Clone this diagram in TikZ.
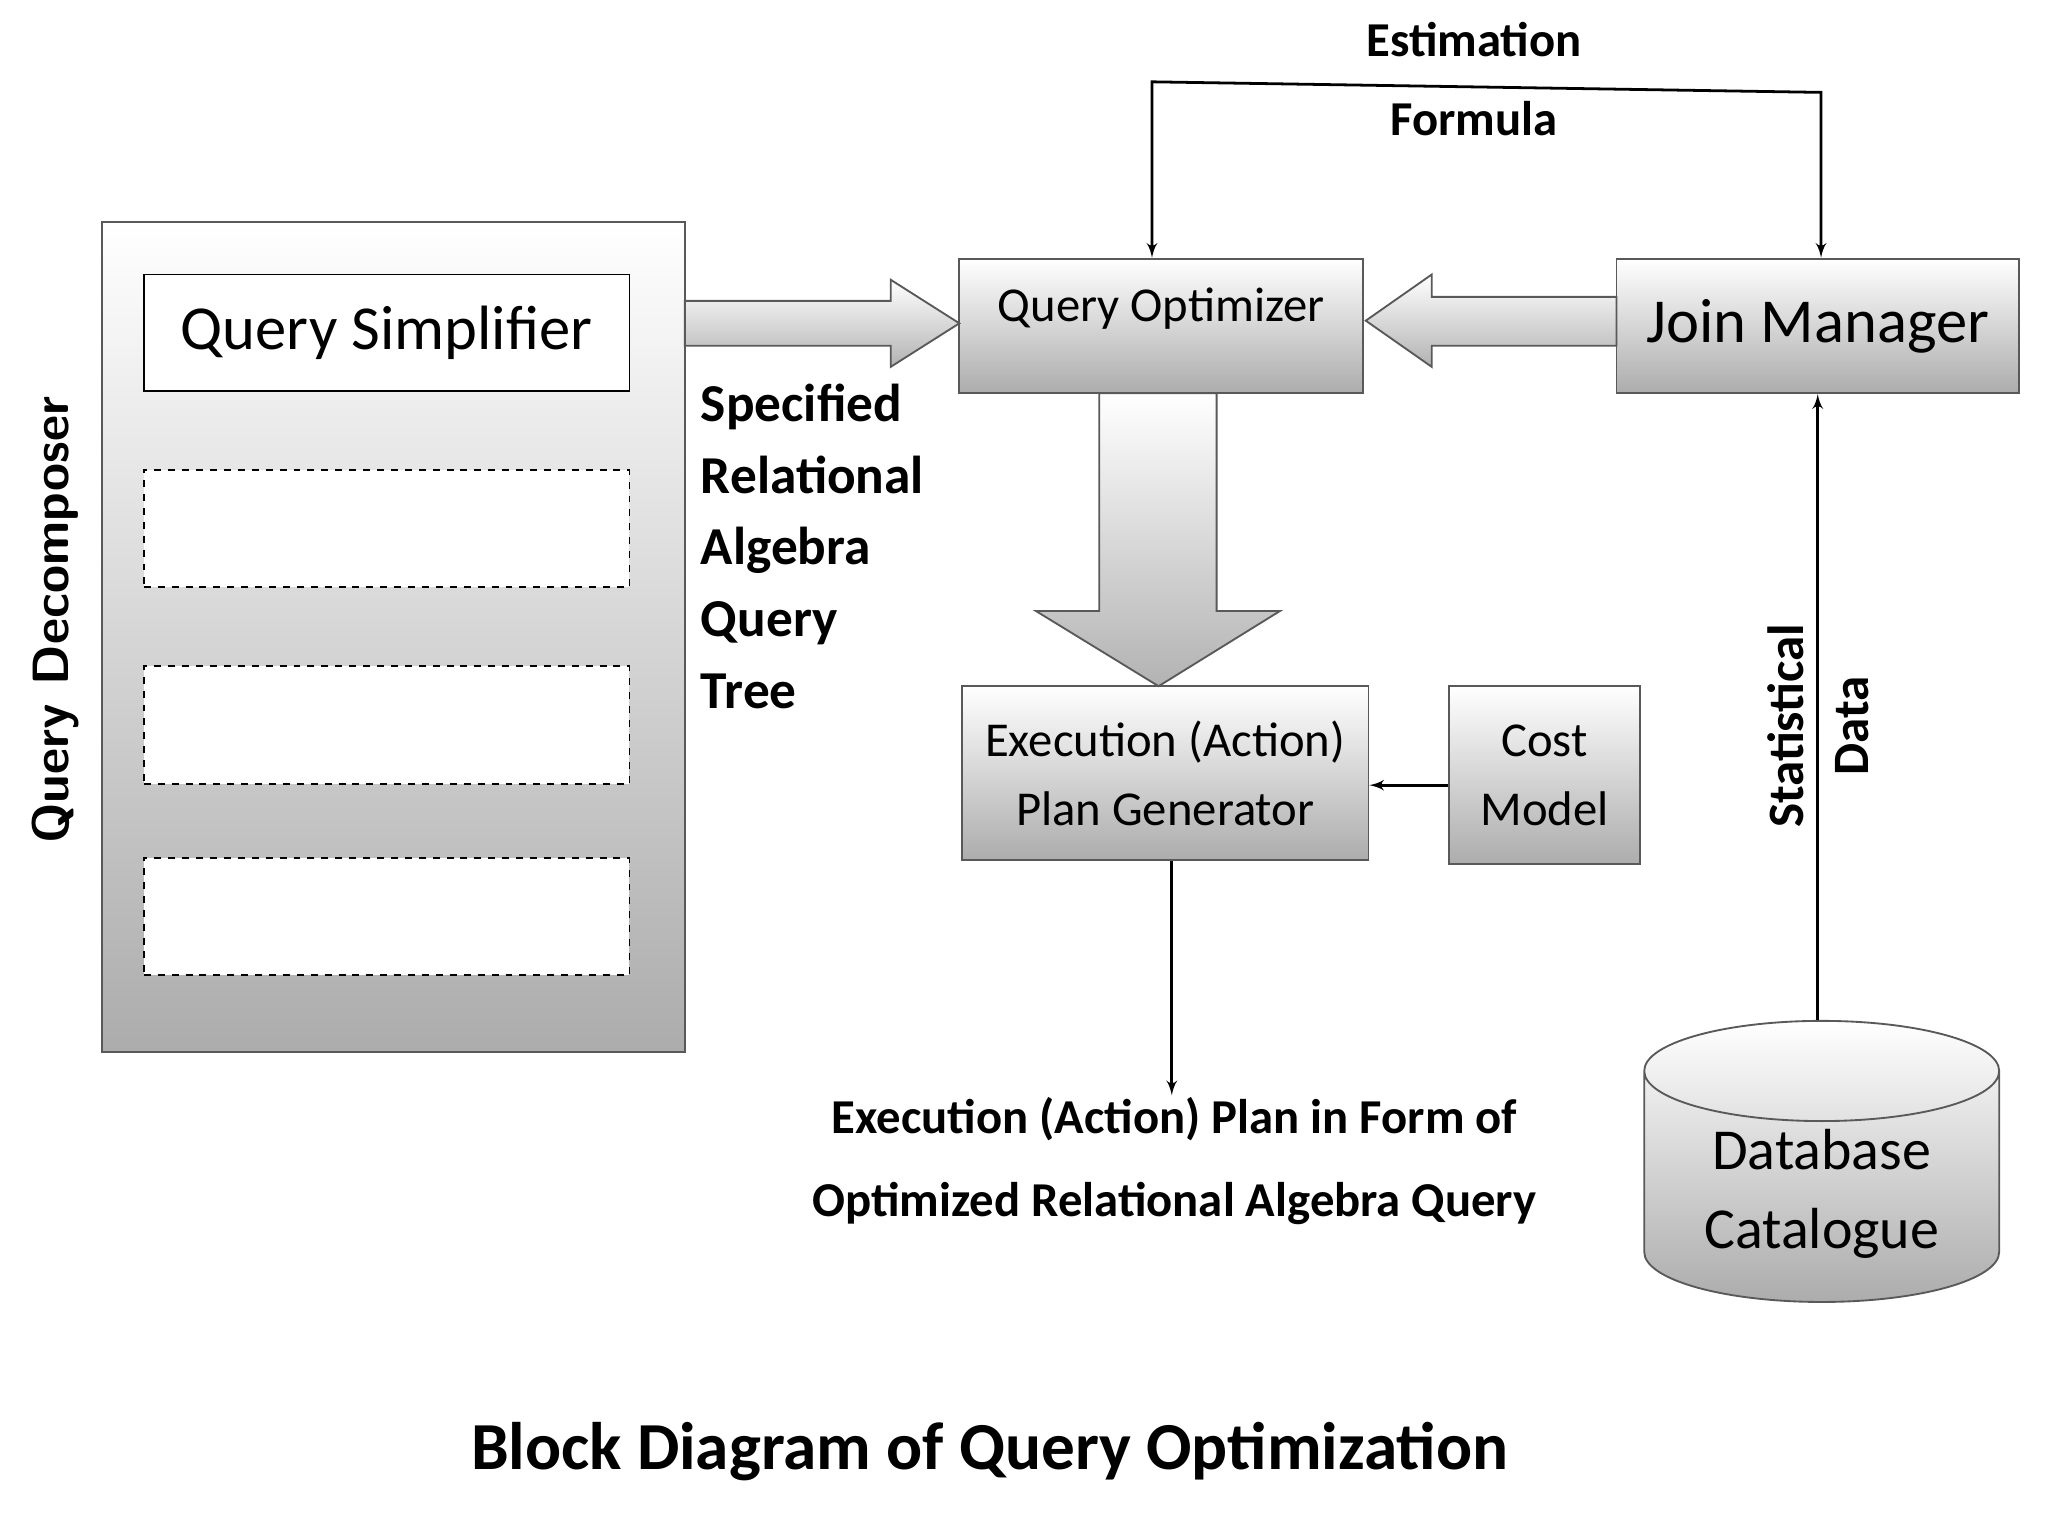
\documentclass[tikz,border=0pt]{standalone}
\usepackage{fontspec}
\setmainfont{Carlito}
\usetikzlibrary{shapes.geometric,arrows}
\begin{document}
\begin{tikzpicture}[>=latex',x=0.02cm,y=-0.02cm,
  box/.style={draw=gray!70!black,thick,top color=white,bottom color=gray!65,inner sep=0pt},
  slot/.style={draw,thick,dashed,fill=white},
  lbl/.style={font=\bfseries\fontsize{22}{28}\selectfont}]
\useasboundingbox (0,0) rectangle (1552,1164);
%%
\node (decomp) [box,minimum width=442*0.02cm,minimum height=629*0.02cm] at (298,482.5) {};
\node (decomplbl) at (42,470) [rotate=90,font=\sffamily\bfseries\fontsize{22}{26}\selectfont] {Query Decomposer};
\node (simpl) at (293,252) [draw,thick,fill=white,minimum width=368*0.02cm,minimum height=88*0.02cm,font=\fontsize{27}{32}\selectfont] {Query Simplifier};
\node (slotA) at (293,400.5) [slot,minimum width=368*0.02cm,minimum height=89*0.02cm] {};
\node (slotB) at (293,549.5) [slot,minimum width=368*0.02cm,minimum height=89*0.02cm] {};
\node (slotC) at (293,694.5) [slot,minimum width=368*0.02cm,minimum height=89*0.02cm] {};
\node (optim) at (880,247) [box,minimum width=306*0.02cm,minimum height=102*0.02cm,font=\fontsize{21}{26}\selectfont,anchor=center] {\raisebox{18pt}{Query Optimizer}};
\node (join) at (1377.5,247) [box,minimum width=305*0.02cm,minimum height=102*0.02cm,font=\fontsize{27}{32}\selectfont] {Join Manager};
\node (planGen) at (883,586) [box,minimum width=308*0.02cm,minimum height=132*0.02cm,align=center,font=\fontsize{21}{30}\selectfont] {Execution (Action)\\Plan Generator};
\node (cost) at (1170.5,587.5) [box,minimum width=145*0.02cm,minimum height=135*0.02cm,align=center,font=\fontsize{21}{30}\selectfont] {Cost\\Model};
\node (catalog) at (1380.5,905) [cylinder,shape border rotate=90,aspect=0.4,draw=gray!70!black,thick,top color=white,bottom color=gray!65,minimum width=269*0.02cm,minimum height=200*0.02cm,align=center,font=\fontsize{25}{34}\selectfont] {Database\\Catalogue};
\node (specLbl) at (525,414) [lbl,anchor=west,align=left,font=\bfseries\fontsize{23}{31}\selectfont] {Specified\\Relational\\Algebra\\Query\\Tree};
\node (statLbl) at (1378,550) [lbl,rotate=90,align=center] {Statistical\\Data};
\node (estLbl) at (1117,60) [lbl,align=center,font=\bfseries\fontsize{21}{34}\selectfont] {Estimation\\Formula};
\node (outLbl) at (890,880) [lbl,align=center,font=\bfseries\fontsize{21}{36}\selectfont] {Execution (Action) Plan in Form of\\Optimized Relational Algebra Query};
\node (title) at (750,1100) [font=\bfseries\fontsize{29}{36}\selectfont] {Block Diagram of Query Optimization};
\coordinate (outEnd) at (888,830);
% block arrows
\draw [thick,gray!70!black,top color=white,bottom color=gray!60] (519,228) -- (675,228) -- (675,212) -- (727,245) -- (675,278) -- (675,262) -- (519,262) -- cycle;
\draw [thick,gray!70!black,top color=white,bottom color=gray!60] (1225,225) -- (1085,225) -- (1085,208) -- (1035,243) -- (1085,278) -- (1085,262) -- (1225,262) -- cycle;
\draw [thick,gray!70!black,top color=white,bottom color=gray!60] (833,298) -- (922,298) -- (922,463) -- (970,463) -- (878,520) -- (785,463) -- (833,463) -- cycle;
% thin connectors
\draw [->,very thick] (cost.west |- 0,595) -- (planGen.east |- 0,595);
\draw [->,very thick] (planGen.south -| outEnd) -- (outEnd);
\draw [->,very thick] (catalog.north -| join) -- (join.south);
\draw [<->,very thick] (optim.north -| 873,0) -- (873,62) -- (1380,70) -- (join.north -| 1380,0);
%
\end{tikzpicture}
\end{document}
